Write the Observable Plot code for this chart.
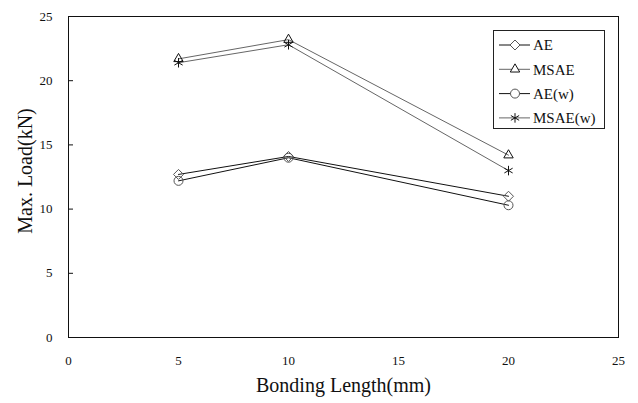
<!DOCTYPE html>
<html>
<head>
<meta charset="utf-8">
<script src="https://cdn.jsdelivr.net/npm/d3@7"></script>
<script src="https://cdn.jsdelivr.net/npm/@observablehq/plot@0.6"></script>
<style>
  html, body { margin: 0; padding: 0; background: #fff; }
  #wrap { position: relative; width: 638px; height: 403px; font-family: 'Liberation Serif', serif; }
  #wrap svg, #wrap svg text { font-family: 'Liberation Serif', serif !important; }
  #legend { position: absolute; left: 493px; top: 30px; }
</style>
</head>
<body>
<div id="wrap"></div>
<script>
const bondingLength = [5, 10, 20];
const seriesNames = ["AE", "MSAE", "AE(w)", "MSAE(w)"];
const aeValues = [12.7, 14.1, 11.0];
const msaeValues = [21.7, 23.2, 14.2];
const aeWValues = [12.2, 14.0, 10.3];
const msaeWValues = [21.4, 22.8, 13.0];
const xTicks = [0, 5, 10, 15, 20, 25];
const yTicks = [0, 5, 10, 15, 20, 25];

const FONT = "'Liberation Serif', serif";
const seriesValues = [aeValues, msaeValues, aeWValues, msaeWValues];
const symbols = {"AE": "diamond2", "MSAE": "triangle2", "AE(w)": "circle", "MSAE(w)": "asterisk"};
const strokes = {"AE": "#111", "MSAE": "#666", "AE(w)": "#111", "MSAE(w)": "#666"};
const markerStrokes = {"AE": "#555", "MSAE": "#111", "AE(w)": "#555", "MSAE(w)": "#111"};

const data = [];
seriesNames.forEach((s, i) => bondingLength.forEach((x, j) => data.push({series: s, x, y: seriesValues[i][j]})));

const chart = Plot.plot({
  width: 638,
  height: 403,
  marginLeft: 68,
  marginRight: 20,
  marginTop: 16,
  marginBottom: 66,
  style: {fontFamily: FONT, fontSize: "13px", color: "#111", background: "#fff"},
  x: {domain: [0, 25]},
  y: {domain: [0, 25]},
  marks: [
    Plot.frame({stroke: "#111"}),
    Plot.axisY({ticks: yTicks, tickSize: -5, tickPadding: 21, label: null, fontSize: 13, fontFamily: FONT}),
    Plot.axisX({ticks: xTicks, tickSize: 0, tickPadding: 18, label: null, fontSize: 13, fontFamily: FONT}),
    ...seriesNames.map(s => Plot.line(data.filter(d => d.series === s), {x: "x", y: "y", stroke: strokes[s], strokeWidth: 1})),
    ...seriesNames.map(s => Plot.dot(data.filter(d => d.series === s), {x: "x", y: "y", symbol: () => symbols[s], r: 4.5, stroke: markerStrokes[s], fill: "none", strokeWidth: 1})),
    Plot.text(["Bonding Length(mm)"], {frameAnchor: "bottom", dy: 54, fontSize: 20, fill: "#111", fontFamily: FONT}),
    Plot.text(["Max. Load(kN)"], {frameAnchor: "left", textAnchor: "middle", dx: -43, dy: -6, rotate: -90, fontSize: 20, fill: "#111", fontFamily: FONT})
  ]
});
document.getElementById("wrap").appendChild(chart);

// legend
const lg = d3.select("#wrap").append("svg").attr("id", "legend")
  .attr("width", 112).attr("height", 99);
lg.append("rect").attr("x", 0.5).attr("y", 0.5).attr("width", 111).attr("height", 98)
  .attr("fill", "#fff").attr("stroke", "#222");
const symFns = {diamond2: d3.symbolDiamond2, triangle2: d3.symbolTriangle2, circle: d3.symbolCircle, asterisk: d3.symbolAsterisk};
seriesNames.forEach((s, i) => {
  const yy = 15 + i * 24.3;
  const g = lg.append("g");
  g.append("line").attr("x1", 6).attr("x2", 37).attr("y1", yy).attr("y2", yy).attr("stroke", strokes[s]);
  g.append("path").attr("transform", `translate(22,${yy})`)
    .attr("d", d3.symbol(symFns[symbols[s]], Math.PI * 4.5 * 4.5)())
    .attr("fill", "#fff").attr("stroke", markerStrokes[s]);
  g.append("text").attr("x", 40).attr("y", yy).attr("dy", "0.35em").attr("font-size", 15)
    .attr("font-family", FONT).attr("fill", "#111").text(s);
});
</script>
</body>
</html>
